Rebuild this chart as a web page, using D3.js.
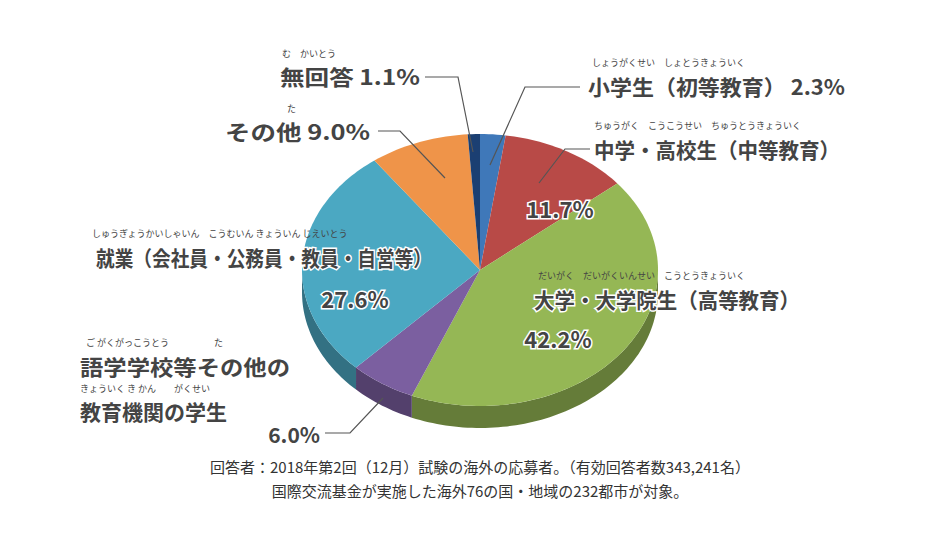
<!DOCTYPE html>
<html><head><meta charset="utf-8">
<script src="https://cdn.jsdelivr.net/npm/d3@7"></script>
<style>body{margin:0;background:#fff}text{font-family:"Noto Sans CJK JP",sans-serif}</style>
</head><body><div id="chart"></div>
<script>
// slices clockwise from 12 o'clock
let names = ["小学生（初等教育）","中学・高校生（中等教育）","大学・大学院生（高等教育）","語学学校等その他の教育機関の学生","就業（会社員・公務員・教員・自営等）","その他","無回答"];
let values = [2.3, 11.7, 42.2, 6.0, 27.6, 9.0, 1.1];
let colors = ["#3f78b9","#b84a47","#95b755","#7b5fa0","#4ba8c2","#ef9449","#1b3f72"];

let W = 934, H = 538;
let cx = 480, cy = 270, rx = 178, ry = 136, depth = 22;

let svg = d3.select("#chart").append("svg").attr("width", W).attr("height", H);

let pie = d3.pie().sort(null).value(d => d)(values);
let pt = (a, dy) => [cx + rx * Math.sin(a), cy - ry * Math.cos(a) + (dy || 0)];

function arcPts(a0, a1, dy) {
	let n = Math.max(2, Math.ceil((a1 - a0) * 40)), p = [];
	for (let i = 0; i <= n; i++) p.push(pt(a0 + (a1 - a0) * i / n, dy));
	return p;
}

// side walls (visible between PI/2 and 3PI/2)
pie.forEach((s, i) => {
	let a0 = Math.max(s.startAngle, Math.PI / 2), a1 = Math.min(s.endAngle, 3 * Math.PI / 2);
	if (a1 <= a0) return;
	let top = arcPts(a0, a1, 0), bot = arcPts(a0, a1, depth).reverse();
	svg.append("path")
		.attr("d", d3.line()(top.concat(bot)) + "Z")
		.attr("fill", d3.color(colors[i]).darker(1.1));
});

// top surface
pie.forEach((s, i) => {
	let p = [[cx, cy]].concat(arcPts(s.startAngle, s.endAngle, 0));
	svg.append("path").attr("d", d3.line()(p) + "Z").attr("fill", colors[i]);
});

// leader lines
let leaders = [
	[[580,87],[525,87],[490,165]],
	[[590,149],[565,149],[539,183]],
	[[425,77],[458,77],[473,152]],
	[[378,131],[400,131],[445,178]],
	[[325,433],[350,433],[383,398]]
];
leaders.forEach(l => svg.append("path").attr("d", d3.line()(l))
	.attr("fill", "none").attr("stroke", "#555").attr("stroke-width", 1.2));

// labels: [text, x, y, size, anchor, halo, width]
let labels = [
	["無回答 1.1%", 420, 85, 21, "end", false, 140],
	["その他 9.0%", 370, 140, 21, "end", false, 145],
	["小学生（初等教育） 2.3%", 588, 95, 21, "start", false, 257],
	["中学・高校生（中等教育）", 594, 158, 21, "start", false, 246],
	["11.7%", 560, 218, 22, "middle", true, 0],
	["大学・大学院生（高等教育）", 534, 308, 21, "start", true, 266],
	["42.2%", 558, 348, 22, "middle", true, 0],
	["就業（会社員・公務員・教員・自営等）", 432, 266, 21, "end", true, 336],
	["27.6%", 355, 308, 22, "middle", true, 0],
	["語学学校等その他の", 80, 375, 21, "start", false, 210],
	["教育機関の学生", 80, 420, 21, "start", false, 0],
	["6.0%", 320, 443, 21, "end", false, 0]
];
labels.forEach(l => {
	let t = svg.append("text").attr("x", l[1]).attr("y", l[2]).attr("text-anchor", l[4])
		.attr("font-size", l[3]).attr("font-weight", "bold").attr("fill", "#444").text(l[0]);
	if (l[6]) t.attr("textLength", l[6]).attr("lengthAdjust", "spacingAndGlyphs");
	if (l[5]) t.attr("stroke", "#fff").attr("stroke-width", 3).attr("paint-order", "stroke");
});

// furigana
let ruby = [
	["む　かいとう", 282, 57],
	["た", 287, 112],
	["しょうがくせい　しょとうきょういく", 592, 66],
	["ちゅうがく　こうこうせい　ちゅうとうきょういく", 594, 129],
	["だいがく　だいがくいんせい　こうとうきょういく", 538, 279],
	["しゅうぎょうかいしゃいん　こうむいん きょういん じえいとう", 92, 237],
	["ご がくがっこうとう　　　　　た", 86, 346],
	["きょういく き かん　　がくせい", 80, 392]
];
ruby.forEach(r => svg.append("text").attr("x", r[1]).attr("y", r[2])
	.attr("font-size", 9).attr("fill", "#444").text(r[0]));

// footnote
let notes = ["回答者：2018年第2回（12月）試験の海外の応募者。（有効回答者数343,241名）",
	"国際交流基金が実施した海外76の国・地域の232都市が対象。"];
notes.forEach((n, i) => svg.append("text").attr("x", 480).attr("y", 473 + i * 24)
	.attr("text-anchor", "middle").attr("font-size", 15).attr("fill", "#333").text(n));
</script></body></html>
